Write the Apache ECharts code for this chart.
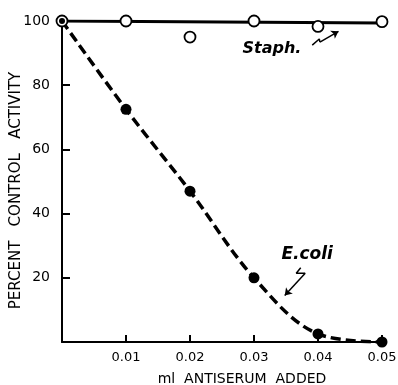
<!DOCTYPE html>
<html><head><meta charset="utf-8">
<script src="https://cdn.jsdelivr.net/npm/echarts@6/dist/echarts.min.js"></script>
<style>html,body{margin:0;padding:0;background:#fff}#c{width:398px;height:385px}</style>
</head><body><div id="c"></div>
<script>
const doses = [0, 0.01, 0.02, 0.03, 0.04, 0.05];
const ecoli = [100, 72.5, 47, 20, 2.5, 0];
const staph = [100, 100, 95, 100, 98.3, 99.8];
const staphFit = [[0, 100], [0.05, 99.4]];
const xTicks = [0.01, 0.02, 0.03, 0.04, 0.05];
const yTicks = [20, 40, 60, 80, 100];
const staphArrow = [[0.0391, 92.5], [0.0402, 94.4], [0.0403, 93.4]];
const staphArrowHead = [[0.0403, 93.4], [0.0432, 96.8]];
const ecoliArrow = [[0.0373, 23.1], [0.0366, 21.4], [0.0380, 21.4]];
const ecoliArrowHead = [[0.0380, 21.4], [0.0348, 14.5]];
const staphLabelPos = [0.0328, 91.2];
const ecoliLabelPos = [0.0383, 27.2];

const F = 'DejaVu Sans';
const chart = echarts.init(document.getElementById('c'));
const pairs = (xs, ys) => xs.map((x, i) => [x, ys[i]]);
chart.setOption({
  animation: false,
  grid: {left: 62, right: 16, top: 21, bottom: 43, containLabel: false, outerBoundsMode: 'none'},
  xAxis: {
    type: 'value', min: 0, max: 0.05, interval: 0.01,
    axisLine: {lineStyle: {color: '#000', width: 2}},
    axisTick: {inside: true, length: 7, lineStyle: {color: '#000', width: 2}},
    axisLabel: {color: '#000', fontFamily: F, fontSize: 13, margin: 9,
      formatter: v => xTicks.some(t => Math.abs(t - v) < 1e-9) ? v.toFixed(2) : ''},
    splitLine: {show: false},
    name: 'ml  ANTISERUM  ADDED', nameLocation: 'middle', nameGap: 30, nameMoveOverlap: false,
    nameTextStyle: {color: '#000', fontFamily: F, fontSize: 14, padding: [0, 0, 0, 40]}
  },
  yAxis: {
    type: 'value', min: 0, max: 100, interval: 20,
    axisLine: {show: true, lineStyle: {color: '#000', width: 2}},
    axisTick: {show: true, inside: true, length: 8, lineStyle: {color: '#000', width: 2}},
    axisLabel: {color: '#000', fontFamily: F, fontSize: 14, margin: 12,
      formatter: v => yTicks.includes(v) ? String(v) : ''},
    splitLine: {show: false},
    name: 'PERCENT   CONTROL   ACTIVITY', nameLocation: 'middle', nameGap: 38, nameMoveOverlap: false,
    nameTextStyle: {color: '#000', fontFamily: F, fontSize: 15, padding: [0, 18, 0, 0]}
  },
  series: [
    {type: 'line', data: staphFit, symbol: 'none', lineStyle: {color: '#000', width: 3}, z: 2},
    {type: 'line', data: pairs(doses, ecoli), symbol: 'none', smooth: 0.35,
      lineStyle: {color: '#000', width: 3.5, type: [10, 5]}, z: 2},
    {type: 'scatter', data: pairs(doses, staph), symbol: 'circle', symbolSize: 11,
      itemStyle: {color: '#fff', borderColor: '#000', borderWidth: 1.8, opacity: 1}, z: 3},
    {type: 'scatter', data: pairs(doses, ecoli), symbol: 'circle',
      symbolSize: (v, p) => p.dataIndex === 0 ? 6 : 11,
      itemStyle: {color: '#000', opacity: 1}, z: 4},
    {type: 'line', data: staphArrow, symbol: 'none', lineStyle: {color: '#000', width: 1.5}, z: 2,
      markLine: {silent: true, symbol: ['none', 'arrow'], symbolSize: 7, label: {show: false},
        lineStyle: {color: '#000', width: 1.5, type: 'solid'},
        data: [[{coord: staphArrowHead[0]}, {coord: staphArrowHead[1]}]]}},
    {type: 'line', data: ecoliArrow, symbol: 'none', lineStyle: {color: '#000', width: 1.5}, z: 2,
      markLine: {silent: true, symbol: ['none', 'arrow'], symbolSize: 7, label: {show: false},
        lineStyle: {color: '#000', width: 1.5, type: 'solid'},
        data: [[{coord: ecoliArrowHead[0]}, {coord: ecoliArrowHead[1]}]]}}
  ]
});
const p1 = chart.convertToPixel({gridIndex: 0}, staphLabelPos);
const p2 = chart.convertToPixel({gridIndex: 0}, ecoliLabelPos);
chart.setOption({graphic: [
  {type: 'text', x: p1[0], y: p1[1], style: {text: 'Staph.', fill: '#000', font: 'italic bold 16px "DejaVu Sans"', textAlign: 'center', textVerticalAlign: 'middle'}},
  {type: 'text', x: p2[0], y: p2[1], style: {text: 'E.coli', fill: '#000', font: 'italic bold 17px "DejaVu Sans"', textAlign: 'center', textVerticalAlign: 'middle'}}
]});
</script></body></html>
